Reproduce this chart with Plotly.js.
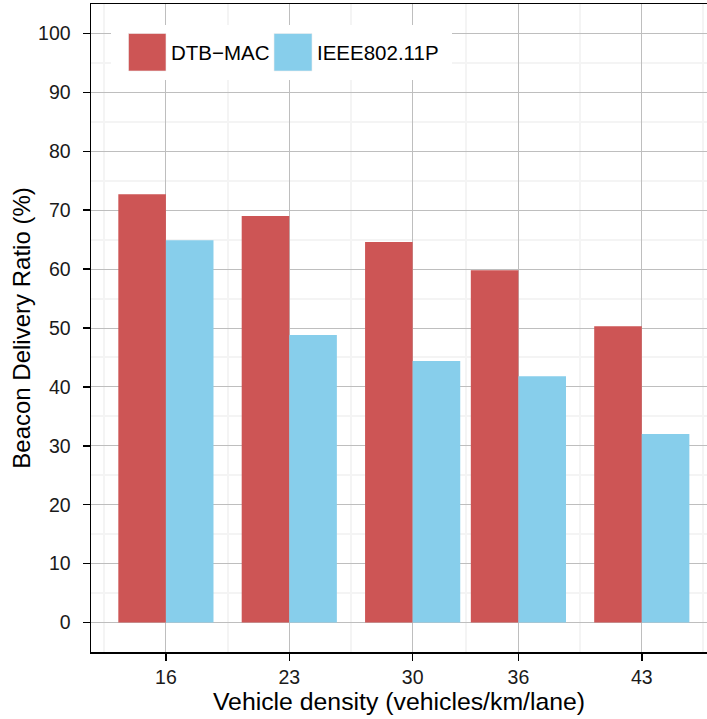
<!DOCTYPE html>
<html>
<head>
<meta charset="utf-8">
<script src="https://cdn.plot.ly/plotly-3.0.1.min.js"></script>
<style>html,body{margin:0;padding:0;background:#fff;}#chart{width:707px;height:719px;}</style>
</head>
<body>
<div id="chart"></div>
<script>
const densities = [16, 23, 30, 36, 43];
const dtbMac = [72.7, 69.0, 64.6, 59.8, 50.3];
const ieee80211p = [64.9, 48.8, 44.4, 41.8, 32.0];
const seriesNames = ["DTB\u2212MAC", "IEEE802.11P"];
const seriesColors = ["#CD5555", "#87CEEB"];
const yTicks = [0, 10, 20, 30, 40, 50, 60, 70, 80, 90, 100];

const font = "Liberation Sans, Arial, Helvetica, sans-serif";
const barW = 2.7;

const traces = [
  {type: "bar", x: densities, y: dtbMac, name: seriesNames[0], width: barW, offset: -barW,
   marker: {color: seriesColors[0], line: {width: 0}}, showlegend: false, hoverinfo: "x+y"},
  {type: "bar", x: densities, y: ieee80211p, name: seriesNames[1], width: barW, offset: 0,
   marker: {color: seriesColors[1], line: {width: 0}}, showlegend: false, hoverinfo: "x+y"}
];

const L = 91, T = 4, W = 707, H = 719, B = 67;
const pw = W - L, ph = H - T - B;
const px = v => (v - L) / pw;
const py = v => (H - B - v) / ph;

const layout = {
  width: W, height: H,
  margin: {l: L, r: 0, t: T, b: B, pad: 0},
  paper_bgcolor: "#fff", plot_bgcolor: "#fff",
  barmode: "overlay",
  font: {family: font, color: "#000"},
  xaxis: {
    range: [11.75, 46.7], tickvals: densities, ticktext: densities.map(String),
    ticks: "outside", ticklen: 7, tickwidth: 1.5, tickcolor: "#000",
    showline: true, linecolor: "#000", linewidth: 1.5, mirror: true,
    showgrid: true, gridcolor: "#bebebe", gridwidth: 1, zeroline: false,
    tickfont: {size: 19.5, family: font, color: "#1a1a1a"},
    minor: {tickvals: [12.5, 19.5, 26.5, 33, 39.5, 46.5], showgrid: true, gridcolor: "#f4f4f4", gridwidth: 2, ticks: ""},
    title: {text: "Vehicle density (vehicles/km/lane)", font: {size: 24.8, family: font, color: "#000"}, standoff: 5}
  },
  yaxis: {
    range: [-5, 105], tickvals: yTicks, ticktext: yTicks.map(String),
    ticks: "outside", ticklen: 7, tickwidth: 1.5, tickcolor: "#000",
    ticklabelstandoff: 8,
    showline: true, linecolor: "#000", linewidth: 1.5, mirror: false,
    showgrid: true, gridcolor: "#bebebe", gridwidth: 1, zeroline: false,
    tickfont: {size: 19.5, family: font, color: "#1a1a1a"},
    minor: {dtick: 10, tick0: 5, showgrid: true, gridcolor: "#f4f4f4", gridwidth: 2, ticks: ""},
    title: {text: "Beacon Delivery Ratio (%)", font: {size: 24, family: font, color: "#000"}, standoff: 0}
  },
  shapes: [
    {type: "rect", xref: "paper", yref: "paper", x0: px(111), x1: px(452), y0: py(80), y1: py(25),
     fillcolor: "#fff", line: {width: 0}, layer: "above"},
    {type: "rect", xref: "paper", yref: "paper", x0: px(128.5), x1: px(166), y0: py(71), y1: py(33.5),
     fillcolor: seriesColors[0], line: {width: 0.6, color: "#eeeeee"}, layer: "above"},
    {type: "rect", xref: "paper", yref: "paper", x0: px(274), x1: px(312), y0: py(71), y1: py(33.5),
     fillcolor: seriesColors[1], line: {width: 0.6, color: "#eeeeee"}, layer: "above"}
  ],
  annotations: [
    {xref: "paper", yref: "paper", x: px(169), y: py(52.5), xanchor: "left", yanchor: "middle",
     text: seriesNames[0], showarrow: false, font: {size: 20.5, family: font, color: "#000"}},
    {xref: "paper", yref: "paper", x: px(315), y: py(52.5), xanchor: "left", yanchor: "middle",
     text: seriesNames[1], showarrow: false, font: {size: 20.5, family: font, color: "#000"}}
  ]
};

Plotly.newPlot("chart", traces, layout, {staticPlot: true, displayModeBar: false});
</script>
</body>
</html>
